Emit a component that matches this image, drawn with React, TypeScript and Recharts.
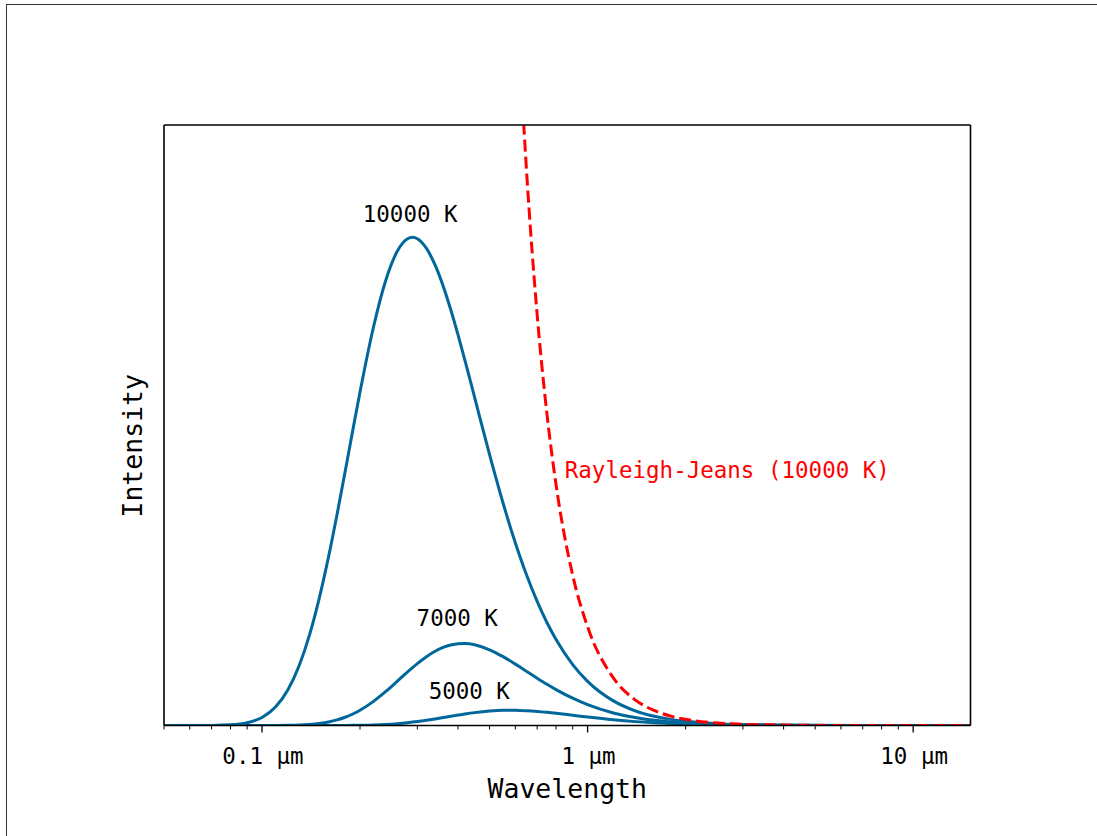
import React from 'react';
import { LineChart, Line, XAxis, YAxis, ReferenceDot } from 'recharts';

const FONT = '"DejaVu Sans Mono", monospace';
const BLUE = '#00679b';
const RED = '#ff0000';

// wavelength in micrometres
const WAVELENGTHS = [
  0.05, 0.06, 0.07, 0.08, 0.09, 0.1, 0.11, 0.12, 0.13, 0.14, 0.15, 0.16, 0.17, 0.18, 0.19,
  0.2, 0.22, 0.24, 0.26, 0.28, 0.29, 0.3, 0.32, 0.34, 0.36, 0.38, 0.4, 0.42, 0.45, 0.5,
  0.55, 0.6, 0.62, 0.65, 0.7, 0.75, 0.8, 0.9, 1.0, 1.2, 1.4, 1.6, 1.8, 2.0, 2.5, 3, 4, 5, 7, 10, 15,
];

// relative intensity (10000 K peak = 100)
const T10000 = [
  0, 0.0014, 0.021, 0.137, 0.562, 1.641, 3.768, 7.25, 12.23, 18.61, 26.15, 34.49, 43.23, 51.99, 60.45,
  68.31, 81.62, 91.21, 97.08, 99.7, 100.0, 99.7, 97.72, 94.34, 90.03, 85.16, 80.01, 74.8, 67.15, 55.49,
  45.57, 37.39, 34.57, 30.76, 25.41, 21.09, 17.61, 12.48, 9.043, 5.044, 3.013, 1.902, 1.257, 0.863, 0.383,
  0.194, 0.066, 0.028, 0.0076, 0.0019, 0.0004,
];
const T7000 = [
  0, 0, 0, 0, 0.0006, 0.0035, 0.014, 0.043, 0.107, 0.227, 0.429, 0.731, 1.149, 1.691, 2.354,
  3.127, 4.942, 6.969, 9.027, 10.97, 11.85, 12.68, 14.09, 15.2, 15.99, 16.5, 16.76, 16.8, 16.53, 15.51,
  14.1, 12.57, 11.97, 11.08, 9.696, 8.452, 7.36, 5.587, 4.27, 2.571, 1.618, 1.061, 0.722, 0.506, 0.234,
  0.122, 0.042, 0.018, 0.005, 0.0013, 0.0003,
];
const T5000 = [
  0, 0, 0, 0, 0, 0, 0, 0, 0.0002, 0.0006, 0.0018, 0.0043, 0.0091, 0.0176, 0.031,
  0.051, 0.118, 0.227, 0.382, 0.581, 0.695, 0.817, 1.078, 1.351, 1.625, 1.889, 2.134, 2.356, 2.637, 2.956,
  3.104, 3.116, 3.092, 3.031, 2.884, 2.7, 2.501, 2.098, 1.734, 1.169, 0.794, 0.55, 0.39, 0.283, 0.138,
  0.074, 0.027, 0.012, 0.0034, 0.0009, 0.0002,
];
const RJ10000: (number | null)[] = [
  null, null, null, null, null, null, null, null, null, null, null, null, null, null, null,
  null, null, null, null, null, null, null, null, null, null, null, null, null, null, null,
  220.9, 155.9, 136.8, 113.2, 84.18, 63.88, 49.34, 30.8, 20.21, 9.747, 5.261, 3.084, 1.925, 1.263, 0.518,
  0.25, 0.079, 0.032, 0.0084, 0.002, 0.0004,
];

const X_DOMAIN = [0.05, 15];
const Y_DOMAIN = [0, 123];

const MAJOR_TICKS = [0.1, 1, 10];
const MAJOR_LABELS = ['0.1 µm', '1 µm', '10 µm'];
const MINOR_TICKS = [
  0.05, 0.06, 0.07, 0.08, 0.09,
  0.2, 0.3, 0.4, 0.5, 0.6, 0.7, 0.8, 0.9,
  2, 3, 4, 5, 6, 7, 8, 9,
];
const ALL_TICKS = [...MINOR_TICKS, ...MAJOR_TICKS].sort((a, b) => a - b);

const CURVE_LABELS = [
  { text: '10000 K', x: 0.2852, y: 103.1, color: '#000', anchor: 'middle' },
  { text: '7000 K', x: 0.3978, y: 20.37, color: '#000', anchor: 'middle' },
  { text: '5000 K', x: 0.4331, y: 5.36, color: '#000', anchor: 'middle' },
  { text: 'Rayleigh-Jeans (10000 K)', x: 0.851, y: 50.6, color: RED, anchor: 'start' },
];

const data = WAVELENGTHS.map((w, i) => ({
  w,
  t10: T10000[i],
  t7: T7000[i],
  t5: T5000[i],
  rj: RJ10000[i],
}));

const XTick = (props: any) => {
  const { x, y, payload } = props;
  const v = payload.value;
  const idx = MAJOR_TICKS.indexOf(v);
  const major = idx >= 0;
  return (
    <g>
      <line x1={x} x2={x} y1={y} y2={y + (major ? 7 : 4)} stroke="#000" strokeWidth={major ? 1.3 : 1} />
      {major && (
        <text x={x + 1} y={y + 38} textAnchor="middle" fontSize={22.5} fontFamily={FONT} fill="#000">
          {MAJOR_LABELS[idx]}
        </text>
      )}
    </g>
  );
};

const XTitle = (props: any) => {
  const vb = props.viewBox;
  return (
    <text x={vb.x + vb.width / 2} y={vb.y + 72} textAnchor="middle" fontSize={26.5} fontFamily={FONT} fill="#000">
      Wavelength
    </text>
  );
};

const YTitle = (props: any) => {
  const vb = props.viewBox;
  const cx = vb.x + vb.width - 22.3;
  const cy = vb.y + vb.height / 2 + 20.5;
  return (
    <text x={cx} y={cy} transform={`rotate(-90 ${cx} ${cy})`} textAnchor="middle" fontSize={26.5} fontFamily={FONT} fill="#000">
      Intensity
    </text>
  );
};

export default function App() {
  return (
    <div style={{ position: 'absolute', left: 0, top: 0, width: 1097, height: 836, background: '#fff' }}>
      <div
        style={{
          position: 'absolute',
          left: 6,
          top: 4,
          width: 1090,
          height: 831,
          borderLeft: '1px solid #333',
          borderTop: '1px solid #333',
        }}
      />
      <div style={{ position: 'absolute', left: 0, top: 0 }}>
        <LineChart
          width={1097}
          height={836}
          data={data}
          margin={{ top: 124, right: 125.5, bottom: 109.5, left: 163 }}
        >
          <XAxis
            dataKey="w"
            type="number"
            scale="log"
            domain={X_DOMAIN}
            allowDataOverflow
            ticks={ALL_TICKS}
            interval={0}
            tick={<XTick />}
            tickLine={false}
            tickSize={0}
            tickMargin={0}
            height={1}
            axisLine={{ stroke: '#000', strokeWidth: 1.6 }}
            label={<XTitle />}
          />
          <XAxis
            xAxisId="top"
            orientation="top"
            dataKey="w"
            type="number"
            scale="log"
            domain={X_DOMAIN}
            allowDataOverflow
            tick={false}
            tickLine={false}
            height={1}
            axisLine={{ stroke: '#000', strokeWidth: 1.6 }}
          />
          <YAxis
            type="number"
            domain={Y_DOMAIN}
            allowDataOverflow
            tick={false}
            tickLine={false}
            width={1}
            axisLine={{ stroke: '#000', strokeWidth: 1.6 }}
            label={<YTitle />}
          />
          <YAxis
            yAxisId="right"
            orientation="right"
            type="number"
            domain={Y_DOMAIN}
            allowDataOverflow
            tick={false}
            tickLine={false}
            width={1}
            axisLine={{ stroke: '#000', strokeWidth: 1.6 }}
          />
          <Line type="monotone" dataKey="t5" stroke={BLUE} strokeWidth={3} dot={false} isAnimationActive={false} />
          <Line type="monotone" dataKey="t7" stroke={BLUE} strokeWidth={3} dot={false} isAnimationActive={false} />
          <Line type="monotone" dataKey="t10" stroke={BLUE} strokeWidth={3} dot={false} isAnimationActive={false} />
          <Line
            type="monotone"
            dataKey="rj"
            stroke={RED}
            strokeWidth={3}
            strokeDasharray="12 5"
            dot={false}
            isAnimationActive={false}
          />
          {CURVE_LABELS.map((l) => (
            <ReferenceDot
              key={l.text}
              x={l.x}
              y={l.y}
              r={0}
              shape={(p: any) => (
                <text
                  x={p.cx}
                  y={p.cy}
                  textAnchor={l.anchor as any}
                  fontSize={22.5}
                  fontFamily={FONT}
                  fill={l.color}
                >
                  {l.text}
                </text>
              )}
            />
          ))}
        </LineChart>
      </div>
    </div>
  );
}
